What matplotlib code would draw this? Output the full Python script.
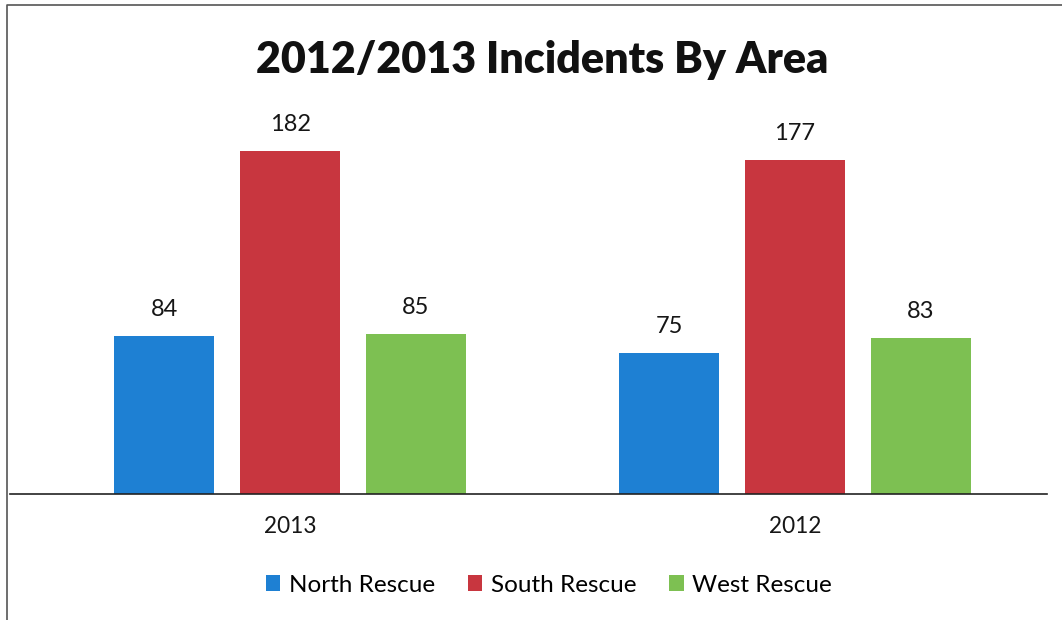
import matplotlib
matplotlib.use("Agg")
import matplotlib.pyplot as plt
from matplotlib.lines import Line2D
from matplotlib.patches import Patch

categories = ["2013", "2012"]
series_names = ["North Rescue", "South Rescue", "West Rescue"]
north = [84, 75]
south = [182, 177]
west = [85, 83]
colors = ["#1E80D3", "#C8363F", "#7DC052"]

W, H = 1062, 620
fig = plt.figure(figsize=(W / 100, H / 100), dpi=100)
fig.patch.set_facecolor("white")

font = "Lato"
ax = fig.add_axes([10 / W, 126 / H, 1037 / W, 377 / H])
ax.set_xlim(-0.5545, 1.499)
ax.set_ylim(0, 200)

bw = 0.198
off = 0.2495
xs = list(range(len(categories)))
for i, (vals, c) in enumerate(zip([north, south, west], colors)):
    pos = [x + (i - 1) * off for x in xs]
    ax.bar(pos, vals, width=bw, color=c, label=series_names[i], zorder=2)
    for p, v in zip(pos, vals):
        ax.annotate(str(v), (p, v), xytext=(0, 19), textcoords="offset points",
                    ha="center", va="center", fontsize=17, color="#161616",
                    family=font)

for s in ["top", "right", "left"]:
    ax.spines[s].set_visible(False)
ax.spines["bottom"].set_color("#222222")
ax.spines["bottom"].set_linewidth(1.2)
ax.set_yticks([])
ax.set_xticks(xs)
ax.set_xticklabels(categories, fontsize=16.3, color="#161616", family=font)
ax.tick_params(axis="x", length=0, pad=16)

fig.text(542 / W, 1 - 60 / H, "2012/2013 Incidents By Area", ha="center", va="center",
         fontsize=31, fontweight="heavy", color="#111111", family=font)

handles = [Patch(facecolor=c, label=n) for c, n in zip(colors, series_names)]
fig.legend(handles=handles, loc="center", bbox_to_anchor=(549 / W, 1 - 585 / H), ncol=3,
           frameon=False, prop={"family": font, "size": 17.5}, handlelength=0.6,
           handleheight=0.6, handletextpad=0.35, columnspacing=1.35)

# scanned border (left and top edges)
fig.add_artist(Line2D([7 / W, 7 / W, 1.0], [0.0, 1 - 5 / H, 1 - 5 / H],
                      transform=fig.transFigure, color="#555555", linewidth=1.2))

fig.savefig("out.png", dpi=100)
